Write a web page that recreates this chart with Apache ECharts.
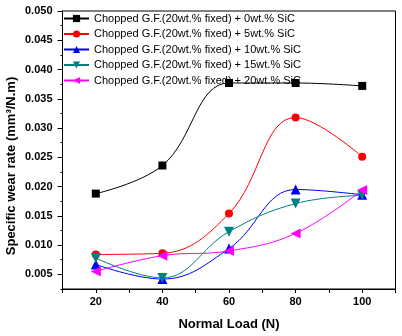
<!DOCTYPE html>
<html>
<head>
<meta charset="utf-8">
<script src="https://cdn.jsdelivr.net/npm/echarts@6/dist/echarts.min.js"></script>
<style>
  html, body { margin: 0; padding: 0; background: #fff; }
  #chart { width: 402px; height: 336px; }
</style>
</head>
<body>
<div id="chart"></div>
<script>
// normal load (N)
var loads = [20, 40, 60, 80, 100];
var xLabels = [20, 40, 60, 80, 100];
var yLabels = [0.005, 0.010, 0.015, 0.020, 0.025, 0.030, 0.035, 0.040, 0.045, 0.050];
var yMinor = [0.0025, 0.0075, 0.0125, 0.0175, 0.0225, 0.0275, 0.0325, 0.0375, 0.0425, 0.0475];

var names = [
  'Chopped G.F.(20wt.% fixed) + 0wt.% SiC',
  'Chopped G.F.(20wt.% fixed) + 5wt.% SiC',
  'Chopped G.F.(20wt.% fixed) + 10wt.% SiC',
  'Chopped G.F.(20wt.% fixed) + 15wt.% SiC',
  'Chopped G.F.(20wt.% fixed) + 20wt.% SiC'
];

// specific wear rate (mm3/N.m)
var sic0 = [0.0188, 0.0236, 0.0377, 0.0377, 0.0372];
var sic5 = [0.0084, 0.0086, 0.0154, 0.0318, 0.0251];
var sic10 = [0.0067, 0.0042, 0.0094, 0.0195, 0.0186];
var sic15 = [0.0078, 0.0044, 0.0123, 0.0171, 0.0185];
var sic20 = [0.0055, 0.0082, 0.0090, 0.0120, 0.0194];

var font = 'Liberation Sans, Arial, sans-serif';

function pairs(vals) {
  return loads.map(function (x, i) { return [x, vals[i]]; });
}

function line(name, vals, color, symbol, size, rotate) {
  return {
    name: name,
    type: 'line',
    smooth: 0.4,
    data: pairs(vals),
    symbol: symbol,
    symbolSize: size,
    symbolRotate: rotate || 0,
    lineStyle: { color: color, width: 1 },
    itemStyle: { color: color },
    emphasis: { disabled: true },
    animation: false
  };
}

var myChart = echarts.init(document.getElementById('chart'));
var option = {
  backgroundColor: '#fff',
  grid: {
    left: 62.5, right: 6.5, top: 11, bottom: 45,
    show: true, borderColor: '#000', borderWidth: 1
  },
  legend: {
    orient: 'vertical',
    left: 63, top: 13,
    padding: 0,
    itemWidth: 25, itemHeight: 9, itemGap: 4.5,
    textStyle: { fontFamily: font, fontSize: 11, lineHeight: 10, color: '#000' },
    data: names
  },
  xAxis: {
    type: 'value',
    min: 10, max: 110, interval: 10,
    name: 'Normal Load (N)',
    nameLocation: 'middle',
    nameGap: 29,
    nameTextStyle: { fontFamily: font, fontSize: 13, fontWeight: 'bold', color: '#000' },
    axisLine: { lineStyle: { color: '#000', width: 1 } },
    axisTick: { show: true, inside: false, length: 4, lineStyle: { color: '#000' } },
    axisLabel: {
      customValues: xLabels,
      margin: 7,
      fontFamily: font, fontSize: 11, fontWeight: 'bold', color: '#000'
    },
    splitLine: { show: false }
  },
  yAxis: [{
    type: 'value',
    min: 0.0025, max: 0.05,
    axisLine: { show: true, lineStyle: { color: '#000', width: 1 } },
    axisTick: { show: true, customValues: yLabels, length: 5, lineStyle: { color: '#000' } },
    axisLabel: {
      customValues: yLabels,
      margin: 10,
      fontFamily: font, fontSize: 11, fontWeight: 'bold', color: '#000',
      formatter: function (v) { return v.toFixed(3); }
    },
    splitLine: { show: false }
  }, {
    type: 'value',
    position: 'left',
    min: 0.0025, max: 0.05,
    axisLine: { show: false },
    axisTick: { show: true, customValues: yMinor, length: 2, lineStyle: { color: '#000' } },
    axisLabel: { show: false },
    splitLine: { show: false }
  }],
  graphic: [{
    type: 'text',
    x: 11, y: 166,
    rotation: Math.PI / 2,
    style: {
      text: 'Specific wear rate (mm³/N.m)',
      font: 'bold 13px ' + font,
      fill: '#000',
      align: 'center',
      verticalAlign: 'middle'
    }
  }],
  series: [
    line(names[0], sic0, '#000000', 'rect', 8),
    line(names[1], sic5, '#ff0000', 'circle', 8),
    line(names[2], sic10, '#0000ff', 'triangle', 10),
    line(names[3], sic15, '#008080', 'triangle', 10, 180),
    line(names[4], sic20, '#ff00ff', 'triangle', 10, 90)
  ]
};
myChart.setOption(option);
</script>
</body>
</html>
